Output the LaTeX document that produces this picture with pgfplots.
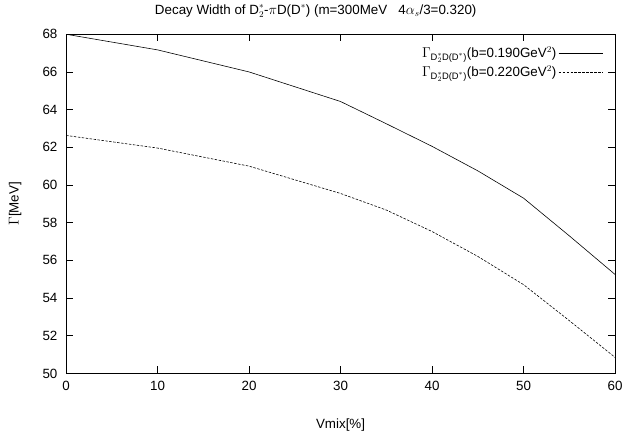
\documentclass[border=0pt]{standalone}
\usepackage{amsmath}
\usepackage{fontspec}
\setmainfont{Liberation Sans}
\usepackage{pgfplots}
\pgfplotsset{compat=1.18}
\begin{document}
\fontsize{13.5}{16}\selectfont
\begin{tikzpicture}
\begin{axis}[
  scale only axis,
  width=552bp, height=341bp,
  xmin=0, xmax=60, ymin=50, ymax=68,
  xtick={0,10,...,60}, ytick={50,52,...,68},
  tick align=inside,
  major tick length=7bp,
  /pgf/number format/assume math mode=true,
  tick label style={font=\fontsize{13.5}{16}\selectfont},
  xticklabel style={yshift=-3bp},
  yticklabel style={xshift=-4bp},
  xlabel={Vmix[\%]},
  ylabel={$\Gamma$[MeV]},
  xlabel style={inner ysep=14bp, yshift=-9.5bp},
  ylabel style={inner ysep=9bp, yshift=7.5bp},
  title={Decay Width of D$_2^*$-$\pi$D(D$^*$) (m=300MeV \ \ 4$\alpha_s$/3=0.320)},
  title style={yshift=6bp, xshift=-25bp},
  axis line style={line width=0.6pt},
  every tick/.style={line width=0.6pt, black},
  legend style={draw=none, fill=none, at={(0.985,0.975)}, anchor=north east, font=\fontsize{13.5}{16}\selectfont, row sep=2bp},
  legend cell align=right,
  legend plot pos=right,
  legend image code/.code={\draw[#1] (0bp,0bp) -- (45bp,0bp);},
]
\addplot[black, line width=0.6pt] coordinates {
(0,68.0) (10,67.17) (20,66.0) (30,64.43) (35,63.25) (40,62.05) (45,60.75) (50,59.3) (55,57.3) (60,55.25)
};
\addlegendentry{$\Gamma_{\text{D}_2^*\text{D(D}^*\text{)}}$(b=0.190GeV$^2$)}
\addplot[black, line width=0.6pt, dash pattern=on 2.5pt off 1.5pt] coordinates {
(0,62.63) (10,61.96) (20,61.0) (30,59.55) (35,58.67) (40,57.53) (45,56.21) (50,54.71) (55,52.8) (60,50.85)
};
\addlegendentry{$\Gamma_{\text{D}_2^*\text{D(D}^*\text{)}}$(b=0.220GeV$^2$)}
\end{axis}
\end{tikzpicture}
\end{document}
